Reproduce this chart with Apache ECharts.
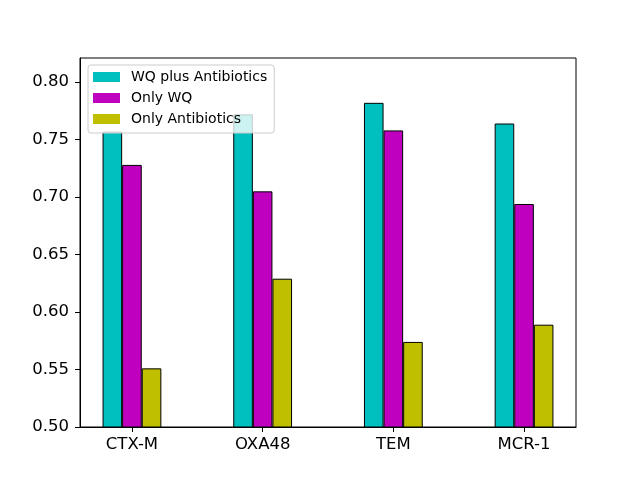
<!DOCTYPE html>
<html><head><meta charset="utf-8">
<script src="https://cdn.jsdelivr.net/npm/echarts@6/dist/echarts.min.js"></script>
<style>html,body{margin:0;padding:0;background:#fff}#c{width:640px;height:480px}</style>
</head><body><div id="c"></div>
<script>
const categories = ['CTX-M', 'OXA48', 'TEM', 'MCR-1'];
const wqPlusAntibiotics = [0.757, 0.772, 0.782, 0.764];
const onlyWQ = [0.728, 0.705, 0.758, 0.694];
const onlyAntibiotics = [0.551, 0.629, 0.574, 0.589];
const yTicks = [0.50, 0.55, 0.60, 0.65, 0.70, 0.75, 0.80];
const seriesNames = ['WQ plus Antibiotics', 'Only WQ', 'Only Antibiotics'];
const colors = ['#00bfbf', '#bf00bf', '#bfbf00'];

const font = 'DejaVu Sans';
const chart = echarts.init(document.getElementById('c'), null, {renderer: 'canvas'});
const seriesData = [wqPlusAntibiotics, onlyWQ, onlyAntibiotics];
chart.setOption({
  animation: false,
  grid: {left: 80, top: 58, right: 64, bottom: 53, show: true, borderColor: '#000', borderWidth: 1, backgroundColor: 'transparent'},
  legend: {
    orient: 'vertical', left: 88, top: 65,
    itemWidth: 27, itemHeight: 10, itemGap: 7,
    padding: [5, 7, 7, 5],
    backgroundColor: 'rgba(255,255,255,0.8)',
    borderColor: '#cccccc', borderWidth: 1, borderRadius: 3,
    textStyle: {fontFamily: font, fontSize: 14, color: '#000', padding: [0, 0, 0, 6]},
    itemStyle: {borderWidth: 0},
    data: seriesNames.map(n => ({name: n, icon: 'rect'}))
  },
  xAxis: {
    type: 'value', min: -0.3975, max: 3.3975,
    splitLine: {show: false},
    axisLine: {show: true, onZero: false, lineStyle: {color: '#000', width: 1}},
    axisTick: {show: true, length: 5, lineStyle: {color: '#000'}, customValues: categories.map((c, i) => i)},
    axisLabel: {color: '#000', fontFamily: font, fontSize: 16.5, margin: 9,
      customValues: categories.map((c, i) => i),
      formatter: v => categories[Math.round(v)]}
  },
  yAxis: {
    type: 'value', min: 0.5, max: 0.821,
    splitLine: {show: false},
    axisLine: {show: true, onZero: false, lineStyle: {color: '#000', width: 1}},
    axisTick: {show: true, length: 5, lineStyle: {color: '#000'}, customValues: yTicks},
    axisLabel: {color: '#000', fontFamily: font, fontSize: 16.5, margin: 11,
      customValues: yTicks,
      formatter: v => v.toFixed(2)}
  },
  series: seriesNames.map((n, s) => ({
    name: n, type: 'bar',
    barWidth: 19.6, barGap: '0%',
    itemStyle: {color: colors[s], borderColor: '#000', borderWidth: 1},
    data: seriesData[s].map((v, i) => [i, v])
  }))
});
</script></body></html>
